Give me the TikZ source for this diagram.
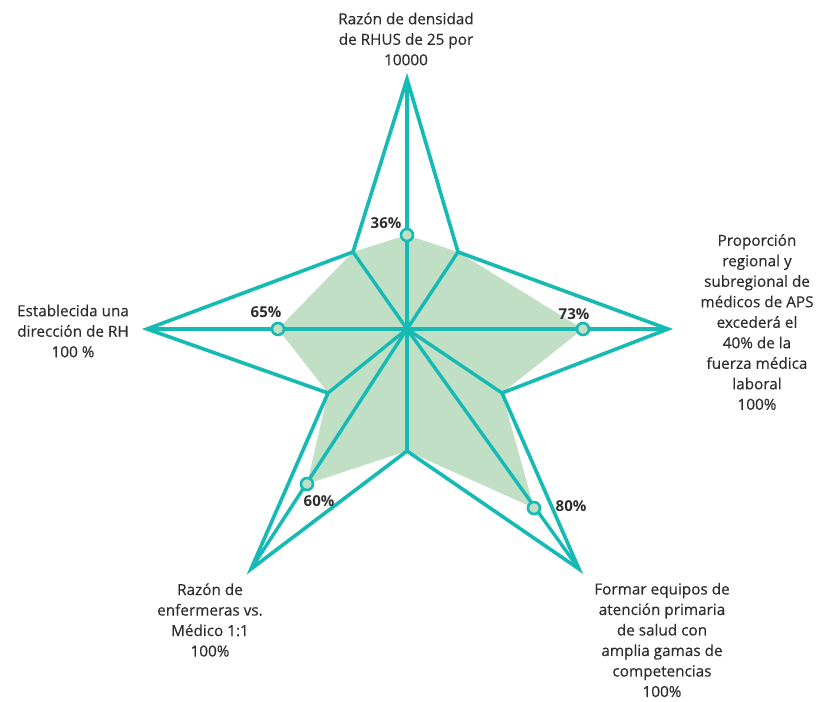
\documentclass[tikz,border=0pt]{standalone}
\usepackage{fontspec}
\setmainfont{Open Sans}
\newfontfamily\medfont[FakeBold=0.45]{Open Sans}
\definecolor{tealc}{RGB}{22,186,180}
\definecolor{fillg}{RGB}{193,223,196}
\definecolor{txtc}{RGB}{45,45,45}
\tikzset{
  lbl/.style={align=center, inner sep=0pt, text=txtc, font=\medfont\fontsize{15.3}{20.5}\selectfont},
  pct/.style={inner sep=0pt, text=txtc, font=\fontsize{15}{18}\selectfont\bfseries},
  starline/.style={draw=tealc, line width=3.6pt, line join=miter},
  spoke/.style={draw=tealc, line width=3.4pt},
  marker/.style={circle, draw=tealc, fill=fillg, line width=2.6pt, minimum size=12pt, inner sep=0pt}
}
\begin{document}
\begin{tikzpicture}[x=1pt,y=-1pt]
\useasboundingbox (0,0) rectangle (818,701);
% centre and vertices
\coordinate (c) at (407,329);
\coordinate (tT) at (407,79);
\coordinate (tR) at (668,329);
\coordinate (tBR) at (579,569);
\coordinate (tBL) at (251,569);
\coordinate (tL) at (147,329);
\coordinate (iTR) at (458,252);
\coordinate (iRB) at (502,393);
\coordinate (iB) at (407,451);
\coordinate (iLB) at (328,393);
\coordinate (iTL) at (353,252);
% data points
\coordinate (dT) at (407,235);
\coordinate (dR) at (583,329);
\coordinate (dBR) at (534,508);
\coordinate (dBL) at (307,484);
\coordinate (dL) at (278,329);
% fill
\fill[fillg] (dT) -- (iTR) -- (dR) -- (iRB) -- (dBR) -- (iB) -- (dBL) -- (iLB) -- (dL) -- (iTL) -- cycle;
% spokes
\foreach \p in {tT,tR,tBR,tBL,tL,iTR,iRB,iB,iLB,iTL} \draw[spoke] (c) -- (\p);
% star outline
\draw[starline] (tT) -- (iTR) -- (tR) -- (iRB) -- (tBR) -- (iB) -- (tBL) -- (iLB) -- (tL) -- (iTL) -- cycle;
% markers
\node[marker] (mT) at (dT) {};
\node[marker] (mR) at (dR) {};
\node[marker] (mBR) at (dBR) {};
\node[marker] (mBL) at (dBL) {};
\node[marker] (mL) at (dL) {};
% percent labels
\node[pct] (pT) at (386,223) {36\%};
\node[pct] (pR) at (574,314) {73\%};
\node[pct] (pL) at (266,312) {65\%};
\node[pct] (pBL) at (319,501) {60\%};
\node[pct] (pBR) at (571,506) {80\%};
% axis labels
\node[lbl] (lT) at (406,39) {Razón de densidad\\de RHUS de 25 por\\10000};
\node[lbl] (lR) at (757,322) {Proporción\\regional y\\subregional de\\médicos de APS\\excederá el\\40\% de la\\fuerza médica\\laboral\\100\%};
\node[lbl] (lL) at (73,331) {Establecida una\\dirección de RH\\100 \%};
\node[lbl] (lBL) at (210,620) {Razón de\\enfermeras vs.\\Médico 1:1\\100\%};
\node[lbl] (lBR) at (662,640) {Formar equipos de\\atención primaria\\de salud con\\amplia gamas de\\competencias\\100\%};
\end{tikzpicture}
\end{document}
